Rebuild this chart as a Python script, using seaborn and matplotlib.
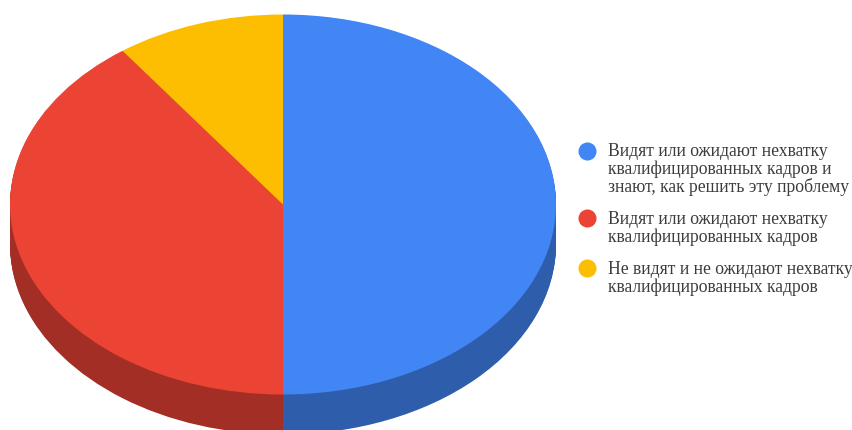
import matplotlib
matplotlib.use('Agg')
import matplotlib.pyplot as plt
from matplotlib.lines import Line2D
import numpy as np
import seaborn as sns

labels = ['Видят или ожидают нехватку\nквалифицированных кадров и\nзнают, как решить эту проблему',
          'Видят или ожидают нехватку\nквалифицированных кадров',
          'Не видят и не ожидают нехватку\nквалифицированных кадров']
values = [50, 40, 10]
top_colors = ['#4285F4', '#EC4434', '#FDBD00']
side_colors = ['#2E5DAB', '#A32E25', '#B18400']

sns.set_theme(style='white')
plt.rcParams['font.family'] = ['Liberation Serif', 'DejaVu Serif']

# ellipse geometry in pixels
cx, cy, rx, ry, depth = 283, 204.5, 273, 190, 40
line_pitch = 12.7  # legend line height in points

fig = plt.figure(figsize=(8.53, 4.30), dpi=100)
ax = fig.add_axes([0, 0, 1, 1])

# side wall = stack of dark pies, then the top face
flat = dict(linewidth=0, edgecolor='none')
for off in np.arange(depth, 0, -1):
    ax.pie(values, colors=side_colors, startangle=90, counterclock=False,
           center=(0, -off / ry), radius=1, wedgeprops=flat)
ax.pie(values, colors=top_colors, startangle=90, counterclock=False,
       center=(0, 0), radius=1, wedgeprops=flat)

ax.set_aspect('auto')
ax.set_xlim(-cx / rx, (853 - cx) / rx)
ax.set_ylim((cy - 430) / ry, cy / ry)
ax.axis('off')

handles = [Line2D([], [], linestyle='none', marker='o', markersize=13,
                  markerfacecolor=c, markeredgecolor='none') for c in top_colors]
leg = fig.legend(handles, labels, loc='center left',
                 bbox_to_anchor=(573 / 853, 1 - 219.5 / 430), frameon=False,
                 fontsize=12.7, labelcolor='#3c3c3c', labelspacing=0.87,
                 handletextpad=0.38, handlelength=1.6, borderpad=0, borderaxespad=0)
for t in leg.get_texts():
    t.set_linespacing(1.0)
# dots sit next to the first line of each entry
for h, lab in zip(leg.legend_handles, labels):
    h.set_ydata(np.asarray(h.get_ydata()) + lab.count('\n') * line_pitch / 2 + 1.1)

fig.savefig('out.png', dpi=100)
